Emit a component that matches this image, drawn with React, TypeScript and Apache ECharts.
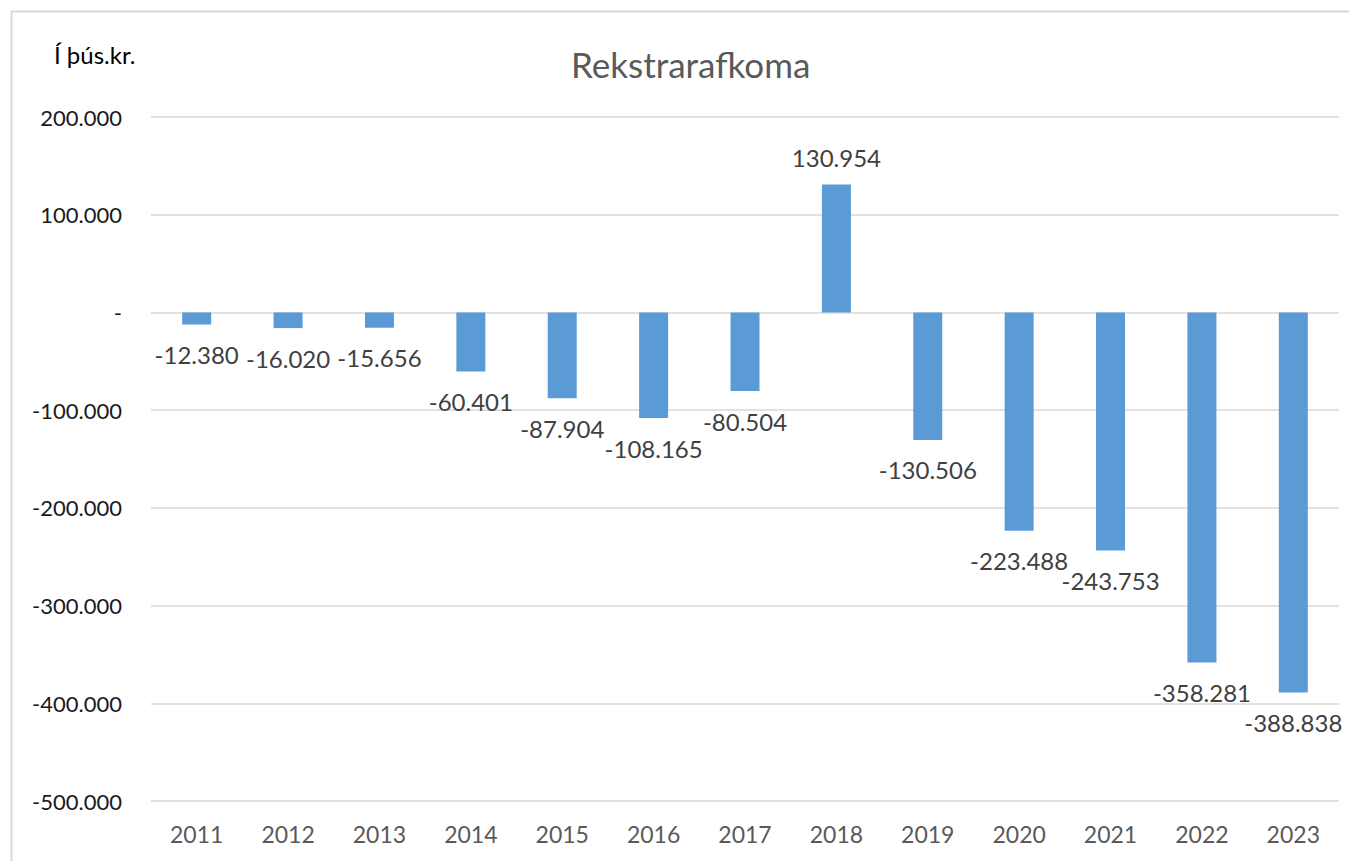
import React, { useEffect, useRef } from "react";
import * as echarts from "echarts";

const years = ["2011", "2012", "2013", "2014", "2015", "2016", "2017", "2018", "2019", "2020", "2021", "2022", "2023"];
const values = [-12380, -16020, -15656, -60401, -87904, -108165, -80504, 130954, -130506, -223488, -243753, -358281, -388838];
const yMin = -500000;
const yMax = 200000;
const yInterval = 100000;
const title = "Rekstrarafkoma";
const unitLabel = "Í þús.kr.";

const FONT = "Lato, 'Noto Sans', sans-serif";

function fmt(v: number): string {
  if (v === 0) return "-";
  const neg = v < 0;
  const s = Math.abs(Math.round(v)).toString();
  const parts: string[] = [];
  for (let i = s.length; i > 0; i -= 3) parts.unshift(s.substring(Math.max(0, i - 3), i));
  return (neg ? "-" : "") + parts.join(".");
}

export default function App() {
  const ref = useRef<HTMLDivElement>(null);
  useEffect(() => {
    if (!ref.current) return;
    const chart = echarts.init(ref.current, null, { renderer: "svg" });
    chart.setOption({
      animation: false,
      backgroundColor: "#ffffff",
      title: {
        text: title,
        left: 566,
        top: 41,
        textStyle: { fontFamily: FONT, fontSize: 35, fontWeight: "normal", color: "#595959" },
      },
      graphic: [
        {
          type: "rect",
          shape: { x: 11.5, y: 11.5, width: 1360, height: 870 },
          style: { fill: "none", stroke: "#d9d9d9", lineWidth: 2 },
          silent: true,
        },
        {
          type: "text",
          x: 54,
          y: 42,
          style: { text: unitLabel, fontFamily: FONT, fontSize: 24, fill: "#000000" },
        },
      ],
      grid: { left: 151, right: 10, top: 117, bottom: 60, containLabel: false },
      xAxis: {
        type: "category",
        data: years,
        axisLine: { show: false },
        axisTick: { show: false },
        axisLabel: { fontFamily: FONT, fontSize: 23, color: "#595959", margin: 21 },
      },
      yAxis: {
        type: "value",
        min: yMin,
        max: yMax,
        interval: yInterval,
        axisLine: { show: false },
        axisTick: { show: false },
        splitLine: { lineStyle: { color: "#d9d9d9", width: 1.5 } },
        axisLabel: {
          fontFamily: FONT,
          fontSize: 22,
          color: "#1a1a1a",
          margin: 29,
          formatter: (v: number) => fmt(v),
        },
      },
      series: [
        {
          type: "bar",
          barWidth: 29,
          itemStyle: { color: "#5b9bd5" },
          data: values.map((v) => ({
            value: v,
            label: { position: v < 0 ? "bottom" : "top", distance: v < 0 ? 18 : 15 },
          })),
          label: {
            show: true,
            fontFamily: FONT,
            fontSize: 24,
            color: "#404040",
            formatter: (p: any) => fmt(p.value),
          },
        },
      ],
    });
    return () => chart.dispose();
  }, []);
  return <div ref={ref} style={{ position: "absolute", left: 0, top: 0, width: 1349, height: 861 }} />;
}
